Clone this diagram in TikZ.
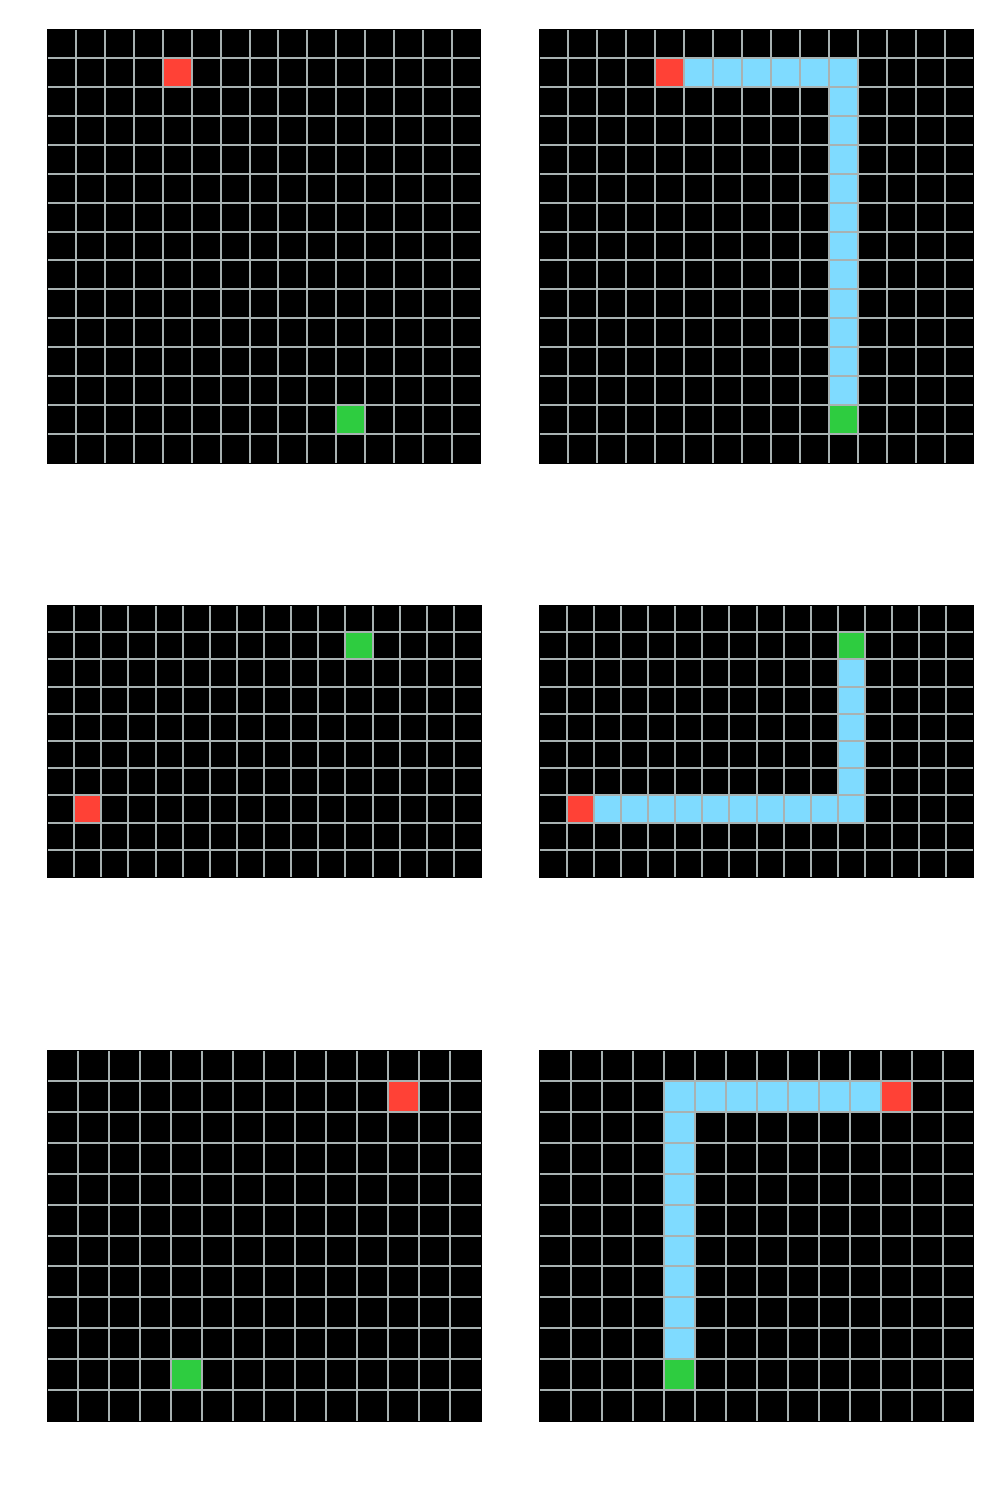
\documentclass[tikz,border=0pt]{standalone}
\definecolor{gl}{RGB}{168,178,178}
\definecolor{cred}{RGB}{255,65,54}
\definecolor{cgreen}{RGB}{46,204,64}
\definecolor{cblue}{RGB}{127,219,255}
\tikzset{
  gridline/.style={draw=gl, line width=2pt},
  frameline/.style={draw=black, line width=1pt},
  redcell/.style={fill=cred},
  greencell/.style={fill=cgreen},
  bluecell/.style={fill=cblue},
}
% #1 x0, #2 y0, #3 cell w, #4 cell h, #5 cols, #6 rows, #7 cells
\newcommand\arcgrid[7]{%
  \begin{scope}[shift={(#1,#2)}, x=#3pt, y=-#4pt]
    \fill[black] (0,0) rectangle (#5,#6);
    #7
    \foreach \i in {1,...,\numexpr#5-1\relax} \draw[gridline] (\i,0) -- (\i,#6);
    \foreach \j in {1,...,\numexpr#6-1\relax} \draw[gridline] (0,\j) -- (#5,\j);
    \draw[frameline] (0,0) rectangle (#5,#6);
  \end{scope}}
\newcommand\cell[3]{\fill[#1] (#2,#3) rectangle ++(1,1);}
\begin{document}
\begin{tikzpicture}[x=1pt,y=-1pt]
\useasboundingbox[fill=white] (0,0) rectangle (1000,1500);
% row 1
\arcgrid{47}{29}{28.933}{28.933}{15}{15}{\cell{redcell}{4}{1}\cell{greencell}{10}{13}}
\arcgrid{539.5}{29}{28.933}{28.933}{15}{15}{%
  \cell{redcell}{4}{1}%
  \foreach \c in {5,...,10} {\cell{bluecell}{\c}{1}}%
  \foreach \r in {2,...,12} {\cell{bluecell}{10}{\r}}%
  \cell{greencell}{10}{13}}
% row 2
\arcgrid{47}{605}{27.125}{27.2}{16}{10}{\cell{greencell}{11}{1}\cell{redcell}{1}{7}}
\arcgrid{539.5}{605}{27.125}{27.2}{16}{10}{%
  \cell{redcell}{1}{7}%
  \foreach \c in {2,...,11} {\cell{bluecell}{\c}{7}}%
  \foreach \r in {2,...,6} {\cell{bluecell}{11}{\r}}%
  \cell{greencell}{11}{1}}
% row 3
\arcgrid{47}{1050}{31}{30.917}{14}{12}{\cell{redcell}{11}{1}\cell{greencell}{4}{10}}
\arcgrid{539.5}{1050}{31}{30.917}{14}{12}{%
  \cell{redcell}{11}{1}%
  \foreach \c in {4,...,10} {\cell{bluecell}{\c}{1}}%
  \foreach \r in {2,...,9} {\cell{bluecell}{4}{\r}}%
  \cell{greencell}{4}{10}}
\end{tikzpicture}
\end{document}
